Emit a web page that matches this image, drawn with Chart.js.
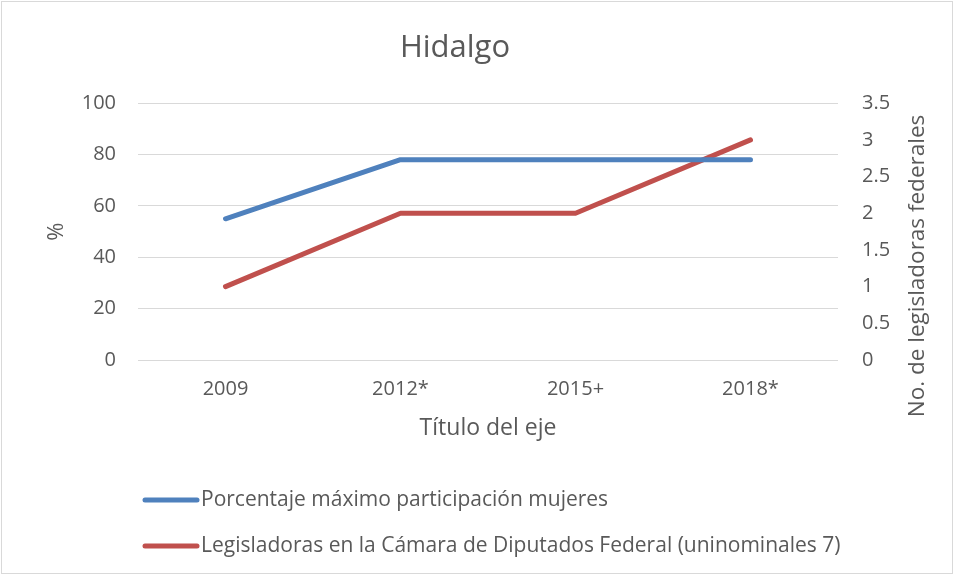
<!DOCTYPE html>
<html lang="es">
<head>
  <meta charset="UTF-8" />
  <title>Hidalgo</title>
  <script src="https://cdn.jsdelivr.net/npm/chart.js"></script>
  <style>
    html, body { margin: 0; padding: 0; background: #ffffff; }
    #wrap { width: 954px; height: 575px; }
  </style>
</head>
<body>
  <div id="wrap"><canvas id="hidalgoChart" width="954" height="575"></canvas></div>

  <script>
    // Data
    const categories = ['2009', '2012*', '2015+', '2018*'];
    const pctMujeres = [55, 78, 78, 78];          // left axis (%)
    const legisladoras = [1, 2, 2, 3];            // right axis (count)
    const seriesLabels = [
      'Porcentaje máximo participación mujeres',
      'Legisladoras en la Cámara de Diputados Federal (uninominales 7)'
    ];
    const seriesColors = ['#4f81bd', '#c0504d'];

    const textColor = '#595959';
    const fontFamily = '"Open Sans", Lato, sans-serif';

    // Frame, right axis title and legend drawn on the canvas
    const extras = {
      id: 'extras',
      beforeDraw(chart) {
        const c = chart.ctx;
        c.save();
        c.strokeStyle = '#d9d9d9';
        c.lineWidth = 1;
        c.strokeRect(1.5, 1.5, chart.width - 3, chart.height - 3);
        c.restore();
      },
      afterDraw(chart) {
        const c = chart.ctx;
        c.save();
        c.fillStyle = textColor;
        c.font = '22.5px ' + fontFamily;
        // secondary axis title, rotated like Excel (bottom to top)
        c.translate(918, 266);
        c.rotate(-Math.PI / 2);
        c.textAlign = 'center';
        c.textBaseline = 'middle';
        c.fillText('No. de legisladoras federales', 0, 0);
        c.restore();

        // legend, stacked
        c.save();
        c.font = '21px ' + fontFamily;
        c.textBaseline = 'middle';
        c.textAlign = 'left';
        chart.data.datasets.forEach((ds, i) => {
          const y = 500 + i * 46;
          c.strokeStyle = ds.borderColor;
          c.lineWidth = 5;
          c.lineCap = 'round';
          c.beginPath();
          c.moveTo(145, y);
          c.lineTo(197, y);
          c.stroke();
          c.fillStyle = textColor;
          c.fillText(ds.label, 201, y);
        });
        c.restore();
      }
    };

    const ctx = document.getElementById('hidalgoChart').getContext('2d');
    const hidalgoChart = new Chart(ctx, {
      type: 'line',
      data: {
        labels: categories,
        datasets: [
          {
            label: seriesLabels[0],
            data: pctMujeres,
            yAxisID: 'y',
            borderColor: seriesColors[0],
            backgroundColor: seriesColors[0],
            borderWidth: 5,
            borderCapStyle: 'round',
            borderJoinStyle: 'round',
            pointRadius: 0,
            tension: 0
          },
          {
            label: seriesLabels[1],
            data: legisladoras,
            yAxisID: 'y1',
            borderColor: seriesColors[1],
            backgroundColor: seriesColors[1],
            borderWidth: 5,
            borderCapStyle: 'round',
            borderJoinStyle: 'round',
            pointRadius: 0,
            tension: 0
          }
        ]
      },
      options: {
        responsive: false,
        animation: false,
        layout: { padding: { left: 0, right: 44, top: 0, bottom: 133 } },
        scales: {
          x: {
            offset: true,
            grid: { display: false, drawTicks: false },
            border: { display: false },
            ticks: { color: textColor, padding: 17, font: { family: fontFamily, size: 20 } },
            title: {
              display: true,
              text: 'Título del eje',
              color: textColor,
              font: { family: fontFamily, size: 23 },
              padding: { top: 0, bottom: 0 }
            },
            afterFit(scale) { scale.height = 82; }
          },
          y: {
            position: 'left',
            min: 0,
            max: 100,
            grid: { color: '#d9d9d9', lineWidth: 1, drawTicks: false },
            border: { display: false },
            ticks: { stepSize: 20, color: textColor, padding: 22, font: { family: fontFamily, size: 20 } },
            title: {
              display: true,
              text: '%',
              color: textColor,
              font: { family: fontFamily, size: 22 },
              padding: { top: 44, bottom: 0 }
            },
            afterFit(scale) { scale.width = 138; }
          },
          y1: {
            position: 'right',
            min: 0,
            max: 3.5,
            grid: { drawOnChartArea: false, drawTicks: false },
            border: { display: false },
            ticks: {
              stepSize: 0.5,
              color: textColor,
              padding: 24,
              font: { family: fontFamily, size: 20 },
              callback: value => String(value)
            },
            afterFit(scale) { scale.width = 72; }
          }
        },
        plugins: {
          legend: { display: false },
          tooltip: { enabled: false },
          title: {
            display: true,
            text: 'Hidalgo',
            color: textColor,
            font: { family: fontFamily, size: 31, weight: 'normal' },
            padding: { top: 30, bottom: 36 }
          }
        }
      },
      plugins: [extras]
    });
  </script>
</body>
</html>
